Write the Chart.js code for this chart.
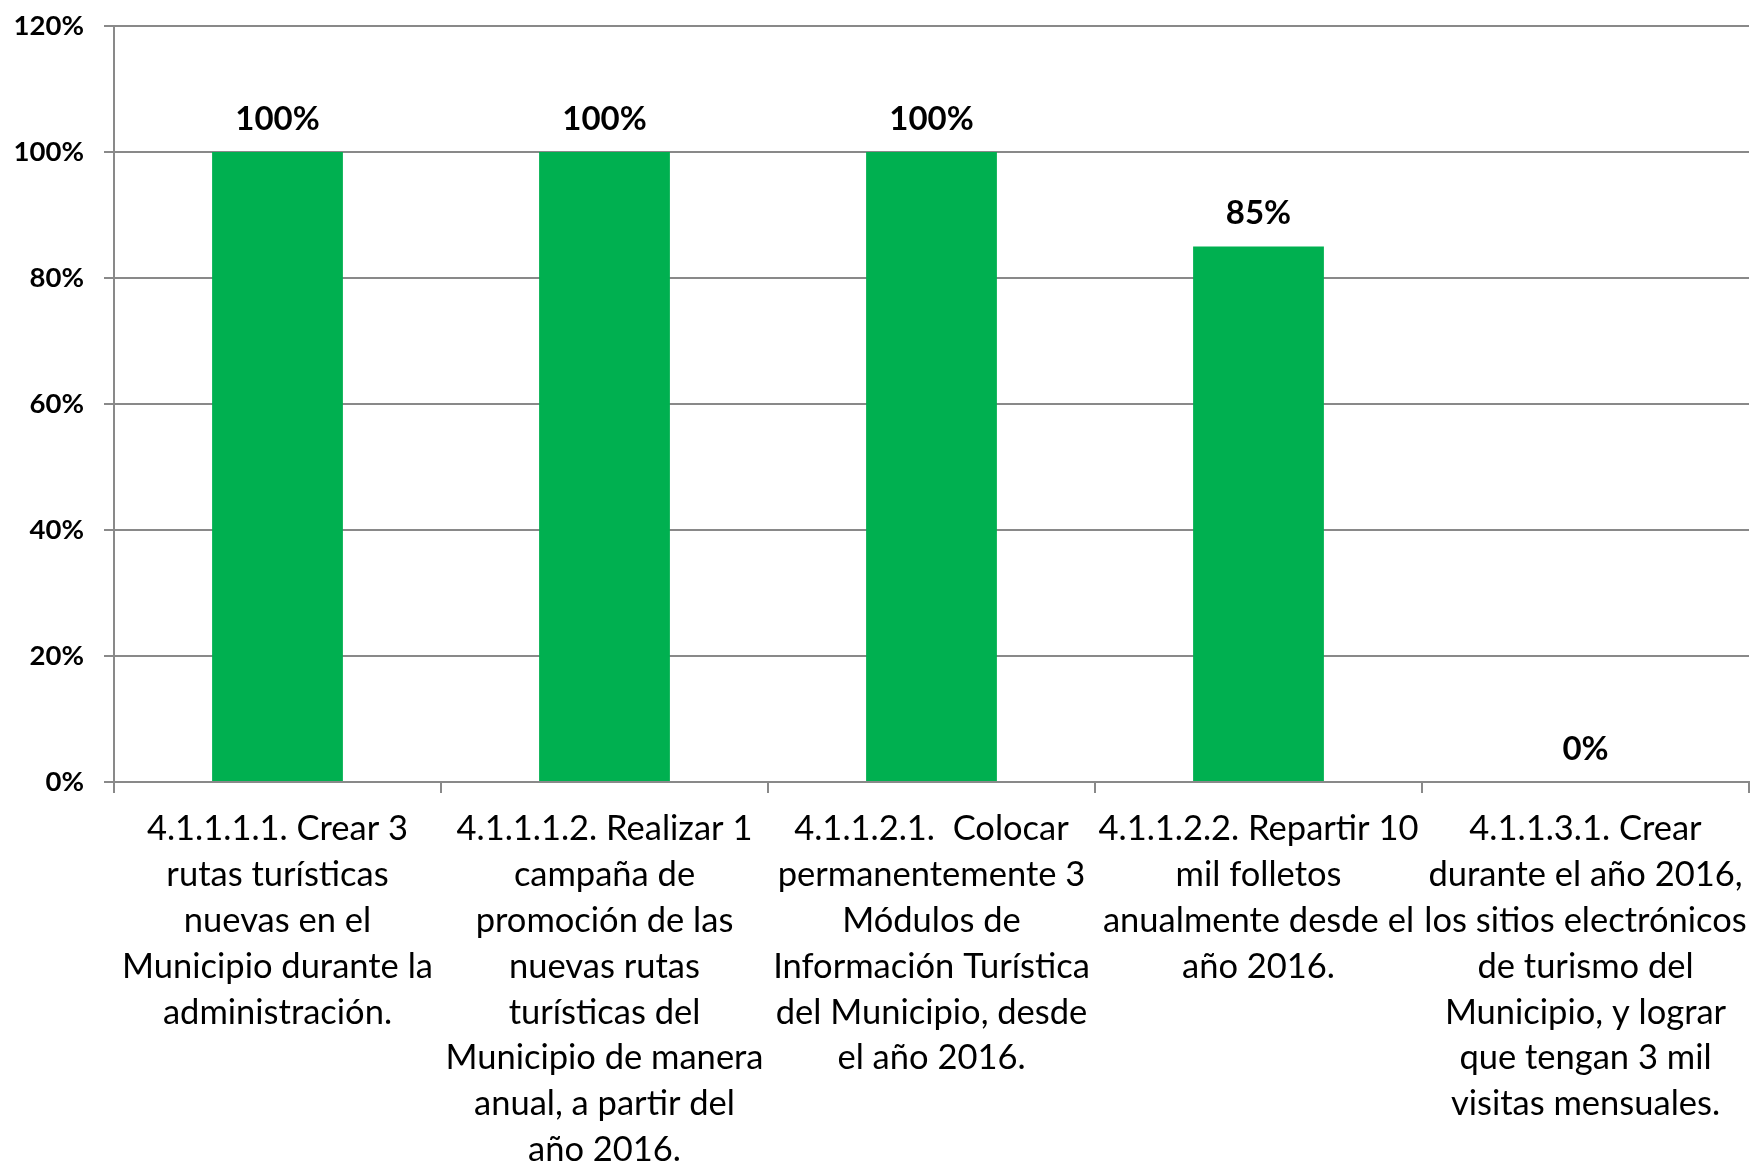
<!DOCTYPE html>
<html lang="es">
<head>
  <meta charset="UTF-8" />
  <title>Avance de metas - Turismo</title>
  <script src="https://cdn.jsdelivr.net/npm/chart.js"></script>
  <style>
    body {
      margin: 0;
      background: #fff;
    }
    .chart-box {
      width: 1750px;
      height: 1162px;
    }
  </style>
</head>
<body>
  <div class="chart-box">
    <canvas id="avanceChart"></canvas>
  </div>

  <script>
    // categorias (una linea por elemento, como en el original)
    const categories = [
      ['4.1.1.1.1. Crear 3', 'rutas turísticas', 'nuevas en el', 'Municipio durante la', 'administración.'],
      ['4.1.1.1.2. Realizar 1', 'campaña de', 'promoción de las', 'nuevas rutas', 'turísticas del', 'Municipio de manera', 'anual, a partir del', 'año 2016.'],
      ['4.1.1.2.1.  Colocar', 'permanentemente 3', 'Módulos de', 'Información Turística', 'del Municipio, desde', 'el año 2016.'],
      ['4.1.1.2.2. Repartir 10', 'mil folletos', 'anualmente desde el', 'año 2016.'],
      ['4.1.1.3.1. Crear', 'durante el año 2016,', 'los sitios electrónicos', 'de turismo del', 'Municipio, y lograr', 'que tengan 3 mil', 'visitas mensuales.']
    ];
    const avance = [100, 100, 100, 85, 0];
    const yTicks = [0, 20, 40, 60, 80, 100, 120];

    const FONT = 'Lato, "Open Sans", sans-serif';
    const GRAY = '#898989';

    // etiquetas de valor encima de cada barra
    const valueLabels = {
      id: 'valueLabels',
      afterDatasetsDraw(chart) {
        const ctx = chart.ctx;
        const meta = chart.getDatasetMeta(0);
        ctx.save();
        ctx.font = 'bold 33px ' + FONT;
        ctx.fillStyle = '#000';
        ctx.textAlign = 'center';
        ctx.textBaseline = 'middle';
        meta.data.forEach((bar, i) => {
          ctx.fillText(avance[i] + '%', bar.x, bar.y - 33);
        });
        ctx.restore();
      }
    };

    new Chart(document.getElementById('avanceChart'), {
      type: 'bar',
      data: {
        labels: categories,
        datasets: [{
          data: avance,
          backgroundColor: '#00B050',
          barPercentage: 0.4,
          categoryPercentage: 1.0
        }]
      },
      options: {
        responsive: true,
        maintainAspectRatio: false,
        animation: false,
        layout: { padding: { top: 26, right: 1, left: 0, bottom: 0 } },
        plugins: {
          legend: { display: false },
          tooltip: { enabled: false }
        },
        scales: {
          x: {
            afterFit(scale) {
              scale.height = 380;
              scale.paddingLeft = 0;
              scale.paddingRight = 0;
            },
            grid: {
              offset: true,
              drawOnChartArea: false,
              drawTicks: true,
              tickLength: 11,
              color: GRAY,
              lineWidth: 2
            },
            border: { color: GRAY, width: 2 },
            ticks: {
              color: '#000',
              autoSkip: false,
              maxRotation: 0,
              minRotation: 0,
              padding: 13,
              font: { family: FONT, size: 34.5, lineHeight: 1.33 }
            }
          },
          y: {
            min: 0,
            max: 120,
            afterFit(scale) {
              scale.width = 114;
              scale.paddingTop = 0;
              scale.paddingBottom = 0;
            },
            afterBuildTicks(scale) {
              scale.ticks = yTicks.map(v => ({ value: v }));
            },
            grid: {
              color: GRAY,
              lineWidth: 2,
              tickLength: 10
            },
            border: { color: GRAY, width: 2 },
            ticks: {
              color: '#000',
              padding: 20,
              font: { family: FONT, size: 27.5, weight: 'bold' },
              callback: v => v + '%'
            }
          }
        }
      },
      plugins: [valueLabels]
    });
  </script>
</body>
</html>
